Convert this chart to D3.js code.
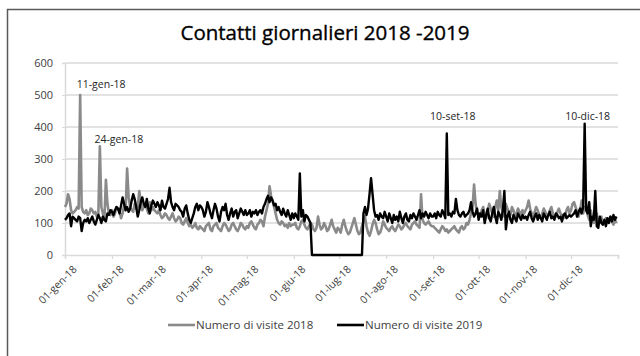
<!DOCTYPE html>
<html><head><meta charset="utf-8">
<script src="https://cdn.jsdelivr.net/npm/d3@7"></script>
<style>
html,body{margin:0;padding:0;background:#fff;}
svg{display:block;font-family:"Open Sans",Lato,sans-serif;}
</style></head>
<body><svg id="c" width="640" height="356"></svg>
<script>
// ---- data ----
const title = "Contatti giornalieri 2018 -2019";
const seriesNames = ["Numero di visite 2018", "Numero di visite 2019"];
const startDate = "2018-01-01";
const endDate = "2019-01-01";
const yTicks = [0, 100, 200, 300, 400, 500, 600];
const monthLabels = ["01-gen-18","01-feb-18","01-mar-18","01-apr-18","01-mag-18","01-giu-18","01-lug-18","01-ago-18","01-set-18","01-ott-18","01-nov-18","01-dic-18"];
const annotationDates = ["2018-01-11","2018-01-24","2018-09-10","2018-12-10"];
const annotationTexts = ["11-gen-18","24-gen-18","10-set-18","10-dic-18"];

const visits2018 = [
// gen
150,160,190,175,140,130,135,140,150,145,500,150,135,130,140,125,130,145,140,130,135,120,125,340,150,130,110,235,160,130,125,
// feb
140,120,130,150,145,135,115,130,155,140,270,180,150,140,135,160,145,150,200,170,140,150,160,145,130,165,140,150,
// mar
140,135,130,140,125,115,120,130,125,115,110,120,130,115,105,110,120,115,100,95,105,115,100,90,95,85,90,100,85,80,90,
// apr
85,80,75,90,95,100,80,75,90,95,100,85,80,75,90,100,95,85,75,80,95,100,90,80,75,85,100,95,85,80,
// mag
90,85,100,105,95,85,80,95,100,110,105,90,120,140,160,215,185,170,150,130,110,100,95,105,100,90,95,85,100,90,95,
// giu
95,100,85,80,90,105,110,95,85,80,90,100,95,80,75,85,120,95,80,85,100,90,75,80,95,110,90,80,70,85,
// lug
80,70,95,110,90,75,65,70,85,100,115,95,75,65,70,90,105,120,90,70,60,75,95,110,100,80,65,70,85,105,95,
// ago
85,80,75,85,90,80,75,85,95,90,80,85,95,100,90,85,80,95,100,105,95,90,85,190,110,100,95,100,105,95,90,
// set
90,85,80,75,70,80,90,85,75,80,70,75,80,85,90,80,75,70,85,90,80,85,100,95,110,130,150,220,160,130,
// ott
130,120,140,150,125,115,135,160,145,130,120,150,170,140,200,150,130,120,160,145,135,125,150,140,120,130,145,135,125,140,130,
// nov
140,150,170,145,130,120,135,150,140,125,115,130,145,135,120,125,140,150,130,115,120,135,145,130,125,115,120,140,150,130,
// dic
140,160,165,150,135,120,140,170,130,150,145,125,110,140,120,100,115,130,100,110,120,95,105,115,100,110,120,105,95,110,100
];

const visits2019 = [
// gen
110,115,125,130,90,120,115,110,105,120,115,75,100,110,105,115,100,110,120,105,95,110,125,115,100,120,110,105,130,125,140,
// feb
135,125,140,150,145,130,155,180,160,140,150,135,145,170,190,175,150,120,140,165,180,160,150,175,145,130,155,170,
// mar
160,150,165,155,140,170,150,145,160,175,210,165,150,140,160,155,150,140,135,120,145,155,130,110,100,115,130,150,160,140,155,
// apr
150,140,120,135,165,150,130,115,140,160,145,120,105,135,150,140,160,125,110,130,145,120,135,140,115,130,145,135,125,140,
// mag
125,130,140,120,135,130,140,125,135,140,130,150,160,175,185,165,180,170,155,160,140,150,135,125,145,130,120,140,125,110,130,
// giu
115,130,120,110,255,120,140,105,125,120,110,100,0,0,0,0,0,0,0,0,0,0,0,0,0,0,0,0,0,0,
// lug
0,0,0,0,0,0,0,0,0,0,0,0,0,0,0,0,130,150,125,145,190,240,190,140,120,125,110,130,120,115,135,
// ago
120,105,130,115,100,125,110,120,105,135,115,100,120,130,110,105,125,115,130,120,110,125,140,115,130,120,135,125,115,130,120,
// set
120,130,115,135,125,120,140,130,115,380,125,130,120,135,130,175,140,125,120,130,135,120,125,130,140,165,135,120,130,145,
// ott
110,130,120,140,100,125,145,115,105,130,150,120,100,135,125,110,140,200,80,120,135,110,100,125,115,105,130,120,110,125,115,
// nov
120,110,125,135,115,105,120,130,110,125,115,105,130,120,110,125,135,115,120,110,130,125,115,120,105,125,130,115,120,125,
// dic
120,125,130,140,120,135,145,130,150,410,140,130,165,90,120,110,200,90,85,120,100,95,110,90,115,100,120,105,125,110,120
];

// ---- chart ----
const svg = d3.select("#c");
const W = 640, H = 356;
const m = {left: 65, right: 22, top: 63, bottom: 101};
const parse = d3.utcParse("%Y-%m-%d");
const t0 = parse(startDate), t1 = parse(endDate);
const days = d3.utcDay.range(t0, t1);

const x = d3.scaleUtc().domain([t0, t1]).range([m.left, W - m.right]);
const y = d3.scaleLinear().domain([0, 600]).range([H - m.bottom, m.top]);

// frame
svg.append("path").attr("d", `M7.5,${H} L7.5,9.5 L${W},9.5`)
  .attr("fill","none").attr("stroke","#595959").attr("stroke-width",1.5);

// title
svg.append("text").attr("x", 325).attr("y", 40).attr("text-anchor","middle")
  .attr("font-size", 20.5).attr("fill","#000")
  .attr("stroke","#000").attr("stroke-width",0.35).text(title);

// gridlines
svg.append("g").selectAll("line").data(yTicks.slice(1)).join("line")
  .attr("x1", m.left).attr("x2", W - m.right)
  .attr("y1", d => y(d)).attr("y2", d => y(d))
  .attr("stroke","#d9d9d9").attr("stroke-width",1.5);

// y axis
const ya = svg.append("g").attr("transform",`translate(${m.left},0)`)
  .call(d3.axisLeft(y).tickValues(yTicks).tickSize(3).tickPadding(9));
ya.select(".domain").attr("stroke","#d9d9d9").attr("stroke-width",1.5);
ya.selectAll(".tick line").attr("stroke","#d9d9d9");
ya.selectAll("text").attr("font-size",11).attr("fill","#404040").attr("font-family","'Open Sans', sans-serif");

// x axis
const monthTicks = d3.utcMonth.range(t0, d3.utcDay.offset(t1,1));
const xa = svg.append("g").attr("transform",`translate(0,${y(0)})`)
  .call(d3.axisBottom(x).tickValues(monthTicks).tickSize(4)
    .tickFormat((d,i) => monthLabels[i] || ""));
xa.select(".domain").attr("stroke","#d9d9d9").attr("stroke-width",1.5);
xa.selectAll(".tick line").attr("stroke","#d9d9d9").attr("stroke-width",1.2);
xa.selectAll("text").attr("font-size",10.5).attr("fill","#404040")
  .attr("font-family","'Open Sans', sans-serif")
  .attr("text-anchor","end").attr("dy",0)
  .attr("transform","translate(7,10) rotate(-45)");

// lines
const line = d3.line().x((d,i) => x(days[i])).y(d => y(d)).curve(d3.curveLinear);
svg.append("path").datum(visits2018).attr("d", line)
  .attr("fill","none").attr("stroke","#8a8a8a").attr("stroke-width",2.6).attr("stroke-linejoin","round");
svg.append("path").datum(visits2019).attr("d", line)
  .attr("fill","none").attr("stroke","#000").attr("stroke-width",2.4).attr("stroke-linejoin","round");

// annotations
const annDx = [21, 19, 6, 3];
const annY = [88, 143, 120, 120];
svg.append("g").selectAll("text").data(annotationTexts).join("text")
  .attr("x", (d,i) => x(parse(annotationDates[i])) + annDx[i])
  .attr("y", (d,i) => annY[i])
  .attr("text-anchor","middle").attr("font-size",10.5).attr("fill","#262626")
  .text(d => d);

// legend
const lg = svg.append("g").attr("transform","translate(0,325)");
const lgX = [168, 337];
const lgCol = ["#8a8a8a","#000"];
seriesNames.forEach((n,i) => {
  lg.append("line").attr("x1", lgX[i]).attr("x2", lgX[i]+27).attr("y1",0).attr("y2",0)
    .attr("stroke", lgCol[i]).attr("stroke-width",2.6);
  lg.append("text").attr("x", lgX[i]+28).attr("y",4).attr("font-size",11.5)
    .attr("fill","#404040").text(n);
});
</script></body></html>
